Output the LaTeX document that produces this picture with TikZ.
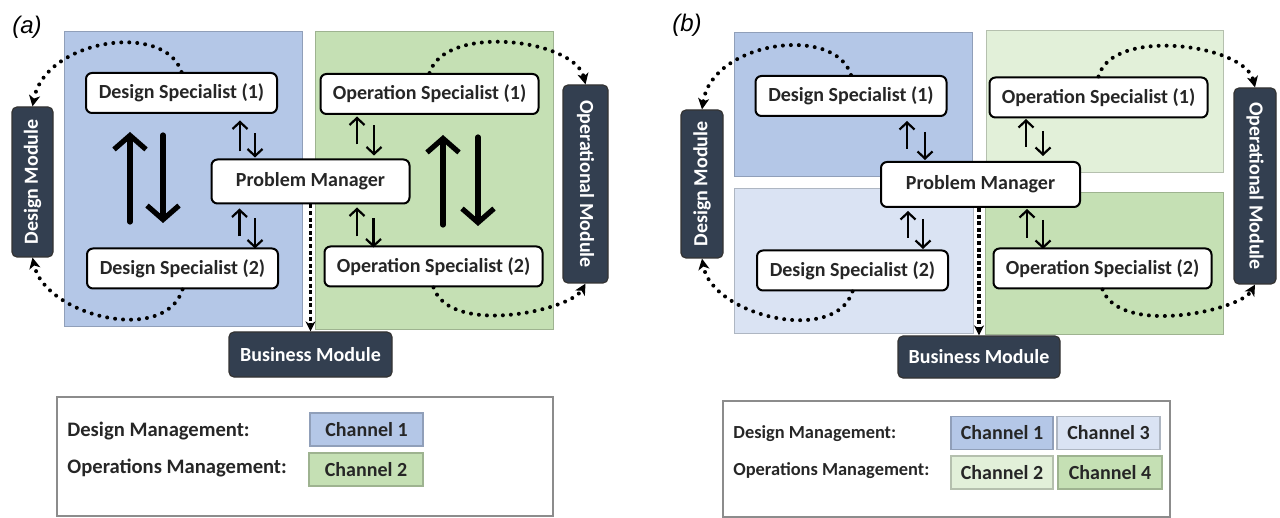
\documentclass[tikz,border=0pt]{standalone}
\usepackage{fontspec}
\usepackage{graphicx}
\setmainfont{Carlito}
\newfontfamily\panelfont{Liberation Sans}
\usetikzlibrary{arrows.meta,calc}
\definecolor{chanblue}{HTML}{B4C7E7}
\definecolor{chanbluelight}{HTML}{DAE3F3}
\definecolor{changreen}{HTML}{C5E0B4}
\definecolor{changreenlight}{HTML}{E2F0D9}
\definecolor{moduledark}{HTML}{333F50}

\begin{document}
\begin{tikzpicture}[x=0.5pt, y=-0.5pt,
    font=\fontsize{10}{12}\selectfont\bfseries,
    specialist/.style={
        rectangle,
        rounded corners=3pt,
        draw=black,
        line width=1pt,
        fill=white,
        text=black!85,
        minimum height=20pt
    },
    design/.style={specialist, minimum width=95.5pt},
    operation/.style={specialist, minimum width=109pt},
    manager/.style={specialist, minimum width=99pt, minimum height=22pt},
    module/.style={
        rectangle,
        rounded corners=2.5pt,
        draw=black!80,
        line width=0.6pt,
        fill=moduledark,
        text=white,
        inner sep=0pt
    },
    region/.style={draw=#1!80!black, line width=0.5pt, fill=#1},
    channel/.style={rectangle, draw=#1!80!black, line width=0.6pt, fill=#1,
        text=black!85, inner sep=0pt, minimum height=16.5pt},
    legendtext/.style={anchor=base west, inner sep=0pt, text=black!85,
        font=\fontsize{#1}{12}\selectfont\bfseries},
    bigarrow/.style={line width=2.6pt, line cap=round,
        -{Straight Barb[length=7pt, width=16pt]}},
    thinarrow/.style={line width=1.1pt,
        -{Straight Barb[length=3.5pt, width=7.5pt]}},
    dotarrow/.style={line width=2pt, line cap=round, dash pattern=on 0pt off 4pt,
        -{Stealth[length=5.5pt, width=5.5pt, inset=1.5pt]}},
    busarrow/.style={line width=1.7pt, dash pattern=on 2pt off 1.3pt,
        -{Stealth[length=5pt, width=5pt]}}
]
    \useasboundingbox (0,0) rectangle (1280,518);

    % ---------- (a): two channels ----------
    \node (label_a) [shift={(27,27)}] {\panelfont\mdseries\itshape\fontsize{12}{14}\selectfont (a)};

    \draw[region=chanblue] (64,32) rectangle (302,327);
    \draw[region=changreen] (315,32) rectangle (553,330);

    \node (design_specialist_1_a) [design, shift={(181.5,93)}]
    {
        Design Specialist (1)
    };
    \node (design_specialist_2_a) [design, shift={(182.5,268.5)}]
    {
        Design Specialist (2)
    };
    \node (operation_specialist_1_a) [operation, shift={(429.5,94)}]
    {
        Operation Specialist (1)
    };
    \node (operation_specialist_2_a) [operation, shift={(433.5,266.5)}]
    {
        Operation Specialist (2)
    };
    \node (problem_manager_a) [manager, shift={(310.5,181.5)}]
    {
        Problem Manager
    };
    \node (design_module_a) [module, minimum width=20.5pt, minimum height=75pt, shift={(32.5,182)}]
    {
        \rotatebox{90}{Design Module}
    };
    \node (operational_module_a) [module, minimum width=22.5pt, minimum height=99pt, shift={(585.5,184)}]
    {
        \rotatebox{-90}{Operational Module}
    };
    \node (business_module_a) [module, minimum width=81.5pt, minimum height=22.5pt, shift={(310.5,354.5)}]
    {
        Business Module
    };

    % specialists hand the work back and forth inside a channel
    \draw[bigarrow] (130,222) -- (130,132);
    \draw[bigarrow] (163,135) -- (163,223);
    \draw[bigarrow] (443,225) -- (443,135);
    \draw[bigarrow] (478,137) -- (478,226);

    \draw[thinarrow] ([shift={(-70.5,-7)}]problem_manager_a.north) -- ([shift={(-70.5,-38)}]problem_manager_a.north);
    \draw[thinarrow] ([shift={(-55.5,-25)}]problem_manager_a.north) -- ([shift={(-55.5,-1)}]problem_manager_a.north);
    \draw[thinarrow] ([shift={(-71,32)}]problem_manager_a.south) -- ([shift={(-71,4)}]problem_manager_a.south);
    \draw[thinarrow] ([shift={(-55.5,14)}]problem_manager_a.south) -- ([shift={(-55.5,44)}]problem_manager_a.south);
    \draw[thinarrow] ([shift={(46.5,-14)}]problem_manager_a.north) -- ([shift={(46.5,-42)}]problem_manager_a.north);
    \draw[thinarrow] ([shift={(63.5,-33)}]problem_manager_a.north) -- ([shift={(63.5,-3)}]problem_manager_a.north);
    \draw[thinarrow] ([shift={(46.5,32)}]problem_manager_a.south) -- ([shift={(46.5,3)}]problem_manager_a.south);
    \draw[thinarrow] ([shift={(63,14)}]problem_manager_a.south) -- ([shift={(63,43)}]problem_manager_a.south);

    \draw[dotarrow] (design_specialist_1_a.north) .. controls +(-16.5,-51) and +(12.5,-67) .. (design_module_a.north);
    \draw[dotarrow] (design_specialist_2_a.south) .. controls +(-17.5,56) and +(12.5,58) .. (design_module_a.south);
    \draw[dotarrow] (operation_specialist_1_a.north) .. controls +(15.5,-50) and +(-10.5,-45) .. (operational_module_a.north);
    \draw[dotarrow] (operation_specialist_2_a.south) .. controls +(16.5,49) and +(-15.5,27) .. (operational_module_a.south);
    \draw[busarrow] (problem_manager_a.south) -- (business_module_a.north);

    % legend (a)
    \draw[draw=black!45, line width=0.6pt] (57,397) rectangle (553,516);
    \node (design_management_a) [legendtext=10.3, shift={(67,436)}] {Design Management:};
    \node (operations_management_a) [legendtext=10.3, shift={(67,473)}] {Operations Management:};
    \node (channel_1_a) [channel=chanblue, minimum width=56.5pt, shift={(366.5,429.5)}] {Channel 1};
    \node (channel_2_a) [channel=changreen, minimum width=57pt, shift={(366,469.5)}] {Channel 2};

    % ---------- (b): four channels ----------
    \node (label_b) [shift={(687,25)}] {\panelfont\mdseries\itshape\fontsize{12}{14}\selectfont (b)};

    \draw[region=chanblue] (734,33) rectangle (972,177);
    \draw[region=chanbluelight] (734,189) rectangle (973,334);
    \draw[region=changreenlight] (986,31) rectangle (1223,173);
    \draw[region=changreen] (985,193) rectangle (1223,335);

    \node (design_specialist_1_b) [design, shift={(851,96)}]
    {
        Design Specialist (1)
    };
    \node (design_specialist_2_b) [design, shift={(852.5,270.5)}]
    {
        Design Specialist (2)
    };
    \node (operation_specialist_1_b) [operation, shift={(1098.5,97.5)}]
    {
        Operation Specialist (1)
    };
    \node (operation_specialist_2_b) [operation, shift={(1102.5,268.5)}]
    {
        Operation Specialist (2)
    };
    \node (problem_manager_b) [manager, minimum width=99.5pt, minimum height=22.5pt, shift={(980.5,184.5)}]
    {
        Problem Manager
    };
    \node (design_module_b) [module, minimum width=21pt, minimum height=74pt, shift={(702,184)}]
    {
        \rotatebox{90}{Design Module}
    };
    \node (operational_module_b) [module, minimum width=21pt, minimum height=98pt, shift={(1255,186)}]
    {
        \rotatebox{-90}{Operational Module}
    };
    \node (business_module_b) [module, minimum width=81pt, minimum height=21pt, shift={(979,357)}]
    {
        Business Module
    };

    \draw[thinarrow] ([shift={(-73.5,-12)}]problem_manager_b.north) -- ([shift={(-73.5,-40)}]problem_manager_b.north);
    \draw[thinarrow] ([shift={(-55.5,-29)}]problem_manager_b.north) -- ([shift={(-55.5,-1)}]problem_manager_b.north);
    \draw[thinarrow] ([shift={(-72.5,30)}]problem_manager_b.south) -- ([shift={(-72.5,3)}]problem_manager_b.south);
    \draw[thinarrow] ([shift={(-57.5,11)}]problem_manager_b.south) -- ([shift={(-57.5,41)}]problem_manager_b.south);
    \draw[thinarrow] ([shift={(45.5,-14)}]problem_manager_b.north) -- ([shift={(45.5,-42)}]problem_manager_b.north);
    \draw[thinarrow] ([shift={(62.5,-30)}]problem_manager_b.north) -- ([shift={(62.5,-5)}]problem_manager_b.north);
    \draw[thinarrow] ([shift={(46.5,30)}]problem_manager_b.south) -- ([shift={(46.5,1)}]problem_manager_b.south);
    \draw[thinarrow] ([shift={(62.5,12)}]problem_manager_b.south) -- ([shift={(62.5,41)}]problem_manager_b.south);

    \draw[dotarrow] (design_specialist_1_b.north) .. controls +(-16,-51) and +(10,-68) .. (design_module_b.north);
    \draw[dotarrow] (design_specialist_2_b.south) .. controls +(-17.5,54) and +(10,57) .. (design_module_b.south);
    \draw[dotarrow] (operation_specialist_1_b.north) .. controls +(13.5,-50) and +(-10,-43) .. (operational_module_b.north);
    \draw[dotarrow] (operation_specialist_2_b.south) .. controls +(17.5,47) and +(-15,26) .. (operational_module_b.south);
    \draw[busarrow] (problem_manager_b.south -| business_module_b.north) -- (business_module_b.north);

    % legend (b)
    \draw[draw=black!45, line width=0.6pt] (723,401) rectangle (1170,517);
    \node (design_management_b) [legendtext=9.2, shift={(733,438)}] {Design Management:};
    \node (operations_management_b) [legendtext=9.2, shift={(733,475.5)}] {Operations Management:};
    \node (channel_1_b) [channel=chanblue, minimum width=51pt, shift={(1002,433)}] {Channel 1};
    \node (channel_3_b) [channel=chanbluelight, minimum width=51.5pt, shift={(1108.5,433)}] {Channel 3};
    \node (channel_2_b) [channel=changreenlight, minimum width=51pt, shift={(1002,472.5)}] {Channel 2};
    \node (channel_4_b) [channel=changreen, minimum width=52pt, shift={(1110,472.5)}] {Channel 4};
\end{tikzpicture}
\end{document}
